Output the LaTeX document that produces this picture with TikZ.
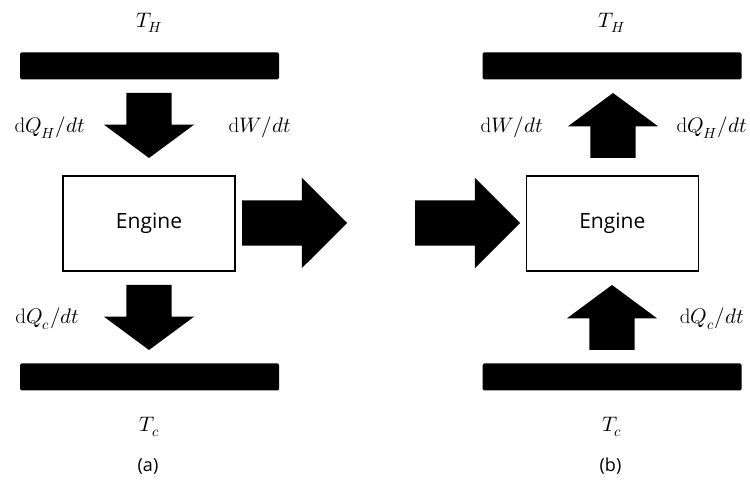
\documentclass[tikz,border=0pt]{standalone}
\usepackage{fontspec}
\usepackage{unicode-math}
\setsansfont{Open Sans}
\usetikzlibrary{shapes.arrows}
\tikzset{
    reservoir/.style={rectangle, fill=black, rounded corners=1.5pt, inner sep=0pt, minimum width=259pt, minimum height=27pt},
    engine/.style={rectangle, draw, line width=1.6pt, inner sep=0pt, minimum width=172pt, minimum height=95pt, font=\sffamily\fontsize{21}{25}\selectfont},
    flow/.style={single arrow, fill=black, inner xsep=0pt, inner ysep=22.5pt, outer sep=0pt, single arrow head extend=22.5pt, anchor=tip},
    vflow/.style={flow, minimum height=65pt, single arrow tip angle=107},
    hflow/.style={flow, minimum height=105pt, single arrow tip angle=90},
    rate/.style={inner sep=0pt, anchor=base, font=\fontsize{21}{25}\selectfont},
    caption/.style={inner sep=0pt, font=\sffamily\fontsize{18}{21}\selectfont}
}
\tikzset{every label/.style={inner sep=0pt, font=\fontsize{21}{25}\selectfont}}

\begin{document}
\begin{tikzpicture}[x=1pt, y=-1pt]
        \useasboundingbox (0,0) rectangle (750,486);
        % (a) heat engine
        \node (hotA) [reservoir, label={[label distance=19pt]above:$T_H$}] at (149.5, 65.8) {};
        \node (coldA) [reservoir, label={[label distance=26pt]below:$T_c$}] at (149.5, 377) {};
        \node (engA) [engine] at (149, 223.5) {Engine};
        \node (qhA) [vflow, rotate=-90] at (149, 158) {};
        \node (qcA) [vflow, rotate=-90] at (149, 350) {};
        \node (wA) [hflow] at (347, 223) {};
        \node (qhlabA) [rate] at (50, 133) {$\mathrm{d}Q_H/dt$};
        \node (wlabA) [rate] at (260, 133) {$\mathrm{d}W/dt$};
        \node (qclabA) [rate] at (47.5, 324) {$\mathrm{d}Q_c/dt$};
        \node (capA) [caption] at (148, 466) {(a)};
        % (b) heat pump
        \node (hotB) [reservoir, label={[label distance=19pt]above:$T_H$}] at (612, 65.8) {};
        \node (coldB) [reservoir, label={[label distance=26pt]below:$T_c$}] at (612, 377) {};
        \node (engB) [engine] at (612.3, 223.5) {Engine};
        \node (qhB) [vflow, rotate=90] at (613, 93) {};
        \node (qcB) [vflow, rotate=90] at (612, 285) {};
        \node (wB) [hflow] at (520, 223) {};
        \node (wlabB) [rate] at (512, 133) {$\mathrm{d}W/dt$};
        \node (qhlabB) [rate] at (712, 133) {$\mathrm{d}Q_H/dt$};
        \node (qclabB) [rate] at (712, 324) {$\mathrm{d}Q_c/dt$};
        \node (capB) [caption] at (610.5, 466) {(b)};
\end{tikzpicture}
\end{document}
